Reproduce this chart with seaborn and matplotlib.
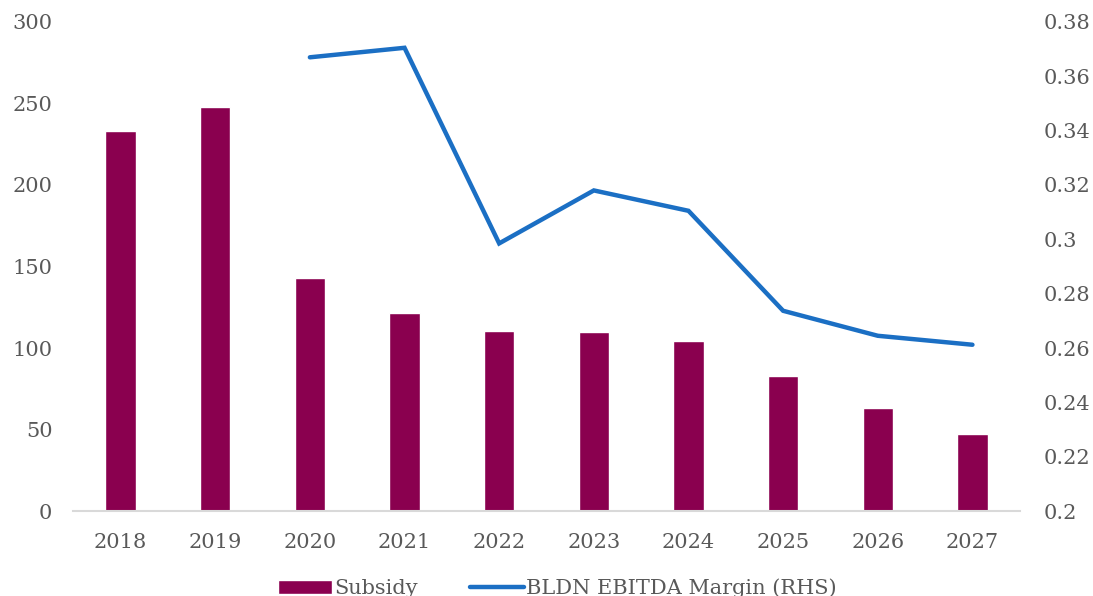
import matplotlib
matplotlib.use("Agg")
import matplotlib.pyplot as plt
import seaborn as sns
import pandas as pd
from matplotlib.patches import Patch
from matplotlib.lines import Line2D

years = ["2018", "2019", "2020", "2021", "2022", "2023", "2024", "2025", "2026", "2027"]
subsidy = [233, 248, 143, 121.5, 110.5, 110, 104, 83, 63, 47]
margin_years = ["2020", "2021", "2022", "2023", "2024", "2025", "2026", "2027"]
margin = [0.367, 0.3705, 0.2985, 0.318, 0.3105, 0.2737, 0.2645, 0.2612]

sns.set_theme(style="white")
plt.rcParams['font.family'] = ['DejaVu Serif']
text_color = "#595959"
bar_color = "#8A004F"
line_color = "#1B6FC4"

fig = plt.figure(figsize=(10.93, 5.96), dpi=100)
ax = fig.add_axes([0.067, 0.1426, 0.866, 0.8205])

df = pd.DataFrame({"year": years, "subsidy": subsidy})
sns.barplot(data=df, x="year", y="subsidy", color=bar_color, width=0.32,
            saturation=1, ax=ax)
ax.set_ylim(0, 300)
ax.set_yticks([0, 50, 100, 150, 200, 250, 300])
ax.set_xlim(-0.5, len(years) - 0.5)
ax.set_xlabel("")
ax.set_ylabel("")

ax2 = ax.twinx()
pos = [years.index(y) for y in margin_years]
sns.lineplot(x=pos, y=margin, color=line_color, linewidth=3.2, ax=ax2,
             solid_capstyle="round", solid_joinstyle="miter")
ax2.set_ylim(0.2, 0.38)
ax2.set_yticks([0.2, 0.22, 0.24, 0.26, 0.28, 0.3, 0.32, 0.34, 0.36, 0.38])
ax2.set_yticklabels(["0.2", "0.22", "0.24", "0.26", "0.28", "0.3", "0.32", "0.34", "0.36", "0.38"])
ax2.set_xlim(-0.5, len(years) - 0.5)

for a in (ax, ax2):
    for s in a.spines.values():
        s.set_visible(False)
    a.tick_params(axis="both", length=0, labelsize=15, colors=text_color)
    a.grid(False)
ax.spines["bottom"].set_visible(True)
ax.spines["bottom"].set_color("#D9D9D9")
ax.spines["bottom"].set_linewidth(1.5)
ax.tick_params(axis="x", pad=16)
ax.tick_params(axis="y", pad=15)
ax2.tick_params(axis="y", pad=17)

handles = [Patch(facecolor=bar_color, label="Subsidy"),
           Line2D([0], [0], color=line_color, linewidth=3.2, solid_capstyle="round",
                  label="BLDN EBITDA Margin (RHS)")]
fig.legend(handles=handles, loc="lower center", bbox_to_anchor=(0.51, -0.035), ncol=2,
           frameon=False, fontsize=15, labelcolor=text_color, handlelength=2.6,
           handletextpad=0.1, columnspacing=2.5)

fig.savefig("out.png", dpi=100)
